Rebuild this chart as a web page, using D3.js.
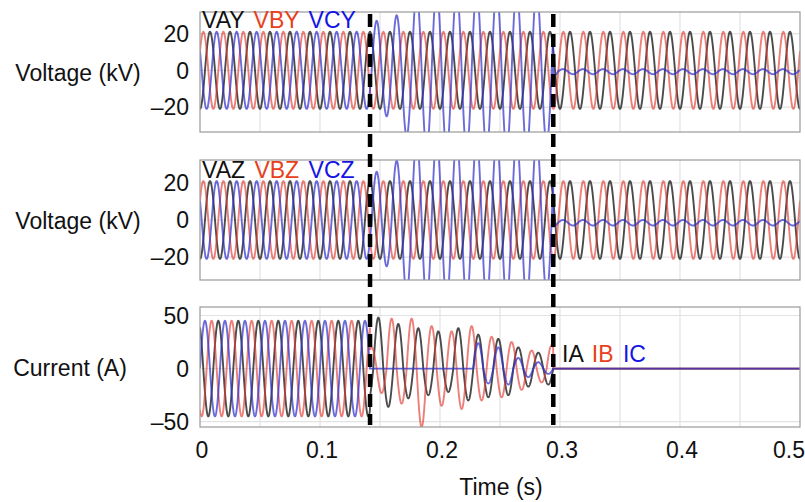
<!DOCTYPE html>
<html>
<head>
<meta charset="utf-8">
<script src="https://cdn.jsdelivr.net/npm/d3@7/dist/d3.min.js"></script>
<style>
  body { margin: 0; background: #fff; }
  text { font-family: "Liberation Sans", Arial, sans-serif; }
</style>
</head>
<body>
<svg id="chart" width="805" height="502"></svg>
<script>
// ---- values ----
var FREQ = 60;                       // Hz (about 20 px per cycle)
var faultTimes = [0.1417, 0.2944];   // dashed lines
var xTicks = [0, 0.1, 0.2, 0.3, 0.4, 0.5];
var xGrid = [0.05, 0.1, 0.15, 0.2, 0.25, 0.3, 0.35, 0.4, 0.45];
var voltTicks = [-20, 0, 20];
var currTicks = [-50, 0, 50];

// phase (cycles) for [pre, fault, post] segments
var vPhaseA = [-0.25, -0.25, -0.25];
var vPhaseB = [-0.917, -0.917, -0.917];
var vPhaseC = [-0.583, -0.583, 0.1];
var iPhaseA = [-0.665, -0.665, 0];
var iPhaseB = [-0.332, -0.332, 0];
var iPhaseC = [-0.998, 0.335, 0];

// peak value of every half cycle for [pre, fault, post] (last entry repeats)
var vayAmps = [[21], [21], [21]];
var vbyAmps = [[21], [21], [21]];
var vcyAmps = [[21], [21, 27, 25, 30, 36, 42, 44, 44, 44, 44, 44, 44, 44, 44, 44, 44, 44, 44, 40], [2.6, 1.4]];
var vcyOffset = [0, 0, -0.7];

var vazAmps = [[21], [21], [21]];
var vbzAmps = [[21], [21], [21]];
var vczAmps = [[21], [21, 26, 25, 32, 40, 44, 44, 44, 44, 44, 44, 44, 44, 44, 44, 44, 44, 44, 40], [2, 1.5]];
var vczOffset = [0, 0, -1.5];

var iaAmps = [[45], [30, 48, 36, 42, 28, 38, 25, 35, 22, 38, 30, 32, 27, 28, 25, 20, 17, 15, 15], [0]];
var ibAmps = [[45], [20, 23, 47, 33, 47, 55, 40, 35, 35, 38, 40, 30, 30, 27, 25, 20, 17, 13, 22], [0]];
var icAmps = [[45], [0, 0, 0, 0, 0, 0, 0, 0, 0, 0, 0, 24, 14, 20, 15, 10, 8, 6, 5, 4], [0]];

var colors = ["#1e1e1e", "#e23a30", "#3232cc"];
var opacities = [0.8, 0.65, 0.72];
var legendColors = ["#111", "#e8401c", "#1414e6"];

// ---- build sampled series ----
var dt = 0.0001;
function buildSeries(phases, amps, offsets) {
  var ts = d3.range(0, 0.5 + dt / 2, dt).concat(faultTimes).sort(d3.ascending);
  var pts = [];
  ts.forEach(function(t) {
    var s = t < faultTimes[0] ? 0 : (t < faultTimes[1] ? 1 : 2);
    var t0 = s === 0 ? 0 : faultTimes[s - 1];
    var u = FREQ * t + phases[s];
    var k = Math.floor(2 * u) - Math.floor(2 * (FREQ * t0 + phases[s]));
    var a = amps[s][Math.max(0, Math.min(k, amps[s].length - 1))];
    pts.push([t, a * Math.sin(2 * Math.PI * u) + (offsets ? offsets[s] : 0)]);
  });
  return pts;
}

var panels = [
  { top: 12, bottom: 132, domain: [-33.6, 31.8], ticks: voltTicks, label: "Voltage (kV)", labelX: 78,
    names: ["VAY", "VBY", "VCY"], legendX: 202, legendY: 28,
    series: [buildSeries(vPhaseA, vayAmps), buildSeries(vPhaseB, vbyAmps), buildSeries(vPhaseC, vcyAmps, vcyOffset)] },
  { top: 160, bottom: 280, domain: [-32.4, 32.4], ticks: voltTicks, label: "Voltage (kV)", labelX: 78,
    names: ["VAZ", "VBZ", "VCZ"], legendX: 202, legendY: 178,
    series: [buildSeries(vPhaseA, vazAmps), buildSeries(vPhaseB, vbzAmps), buildSeries(vPhaseC, vczAmps, vczOffset)] },
  { top: 307, bottom: 427, domain: [-55, 58], ticks: currTicks, label: "Current (A)", labelX: 70,
    names: ["IA", "IB", "IC"], legendX: 562, legendY: 362,
    series: [buildSeries(iPhaseA, iaAmps), buildSeries(iPhaseB, ibAmps), buildSeries(iPhaseC, icAmps)] }
];

var svg = d3.select("#chart");
var x = d3.scaleLinear().domain([0, 0.5]).range([200, 800]);
var fmtTick = function(v) { return v < 0 ? "\u2013" + Math.abs(v) : String(v); };
var FS = 23;

panels.forEach(function(p, idx) {
  var y = d3.scaleLinear().domain(p.domain).range([p.bottom, p.top]);
  var g = svg.append("g").attr("class", "panel-" + idx);

  g.append("clipPath").attr("id", "clip" + idx)
    .append("rect").attr("x", 200).attr("y", p.top).attr("width", 600).attr("height", p.bottom - p.top);

  // grid
  g.selectAll("line.vgrid").data(xGrid).enter().append("line")
    .attr("class", "vgrid")
    .attr("x1", function(d) { return x(d); }).attr("x2", function(d) { return x(d); })
    .attr("y1", p.top).attr("y2", p.bottom)
    .attr("stroke", "#e2e2e2").attr("stroke-width", 1.2);
  g.selectAll("line.hgrid").data(p.ticks).enter().append("line")
    .attr("class", "hgrid")
    .attr("x1", 200).attr("x2", 800)
    .attr("y1", function(d) { return y(d); }).attr("y2", function(d) { return y(d); })
    .attr("stroke", "#e2e2e2").attr("stroke-width", 1.2);

  // waveforms
  var line = d3.line().x(function(d) { return x(d[0]); }).y(function(d) { return y(d[1]); });
  g.append("g").attr("clip-path", "url(#clip" + idx + ")")
    .selectAll("path").data(p.series).enter().append("path")
    .attr("d", line)
    .attr("fill", "none")
    .attr("stroke", function(d, i) { return colors[i]; })
    .attr("stroke-opacity", function(d, i) { return opacities[i]; })
    .attr("stroke-width", 1.9);

  // frame
  g.append("rect").attr("x", 200).attr("y", p.top).attr("width", 600).attr("height", p.bottom - p.top)
    .attr("fill", "none").attr("stroke", "#9a9a9a").attr("stroke-width", 1.2);

  // y tick labels
  g.selectAll("text.ytick").data(p.ticks).enter().append("text")
    .attr("class", "ytick")
    .attr("x", 189).attr("y", function(d) { return y(d); }).attr("dy", "0.36em")
    .attr("text-anchor", "end").attr("font-size", FS).attr("fill", "#111")
    .text(fmtTick);

  // y label
  g.append("text").attr("x", p.labelX).attr("y", (p.top + p.bottom) / 2 + 1).attr("dy", "0.36em")
    .attr("text-anchor", "middle").attr("font-size", FS).attr("fill", "#111")
    .text(p.label);

  // legend
  var lg = g.append("text").attr("x", p.legendX).attr("y", p.legendY).attr("font-size", FS);
  p.names.forEach(function(n, i) {
    lg.append("tspan").attr("dx", i === 0 ? 0 : 3).attr("fill", legendColors[i]).text((i === 0 ? "" : " ") + n);
  });
});

// x tick labels
svg.selectAll("text.xtick").data(xTicks).enter().append("text")
  .attr("class", "xtick")
  .attr("x", function(d, i) { return i === xTicks.length - 1 ? 805 : x(d) + 2; })
  .attr("y", 458)
  .attr("text-anchor", function(d, i) { return i === xTicks.length - 1 ? "end" : "middle"; })
  .attr("font-size", FS).attr("fill", "#111")
  .text(function(d) { return String(d); });

svg.append("text").attr("x", 501).attr("y", 495).attr("text-anchor", "middle")
  .attr("font-size", FS).attr("fill", "#111").text("Time (s)");

// fault markers
svg.selectAll("line.fault").data(faultTimes).enter().append("line")
  .attr("class", "fault")
  .attr("x1", function(d) { return x(d); }).attr("x2", function(d) { return x(d); })
  .attr("y1", 14).attr("y2", 425)
  .attr("stroke", "#000").attr("stroke-width", 4.5)
  .attr("stroke-dasharray", "13,7");
</script>
</body>
</html>
